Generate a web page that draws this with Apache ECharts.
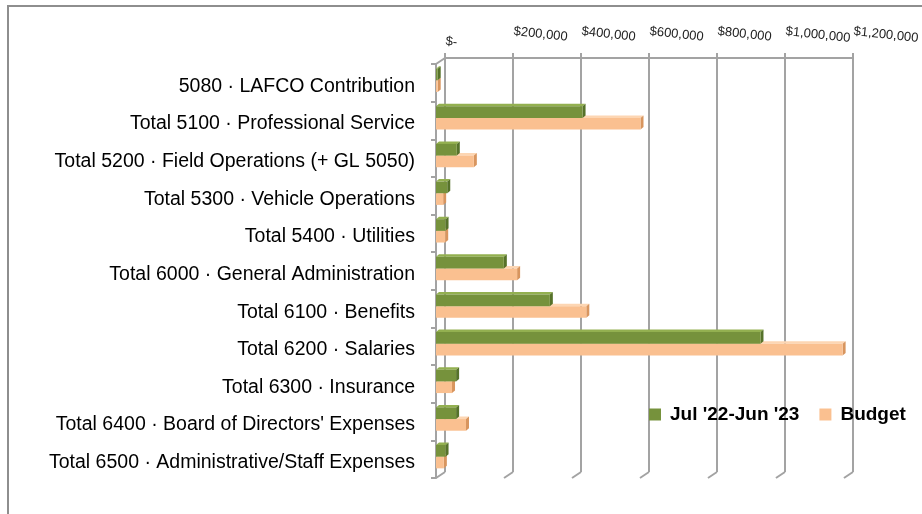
<!DOCTYPE html>
<html>
<head>
<meta charset="utf-8">
<script src="https://cdn.jsdelivr.net/npm/echarts@6/dist/echarts.min.js"></script>
<style>
html,body{margin:0;padding:0;background:#fff;}
#chart{width:922px;height:514px;}
</style>
</head>
<body>
<div id="chart"></div>
<script>
const categories = [
  '5080 · LAFCO Contribution',
  'Total 5100 · Professional Service',
  'Total 5200 · Field Operations (+ GL 5050)',
  'Total 5300 · Vehicle Operations',
  'Total 5400 · Utilities',
  'Total 6000 · General Administration',
  'Total 6100 · Benefits',
  'Total 6200 · Salaries',
  'Total 6300 · Insurance',
  "Total 6400 · Board of Directors' Expenses",
  'Total 6500 · Administrative/Staff Expenses'
];
const actual = [5000, 430000, 61000, 33000, 28000, 199000, 334000, 952000, 59000, 59000, 28000];
const budget = [5000, 600000, 111000, 21000, 27000, 238000, 441000, 1193000, 47000, 88000, 23000];
const seriesNames = ["Jul '22-Jun '23", 'Budget'];
const tickValues = [0, 200000, 400000, 600000, 800000, 1000000, 1200000];

const GREEN = {front:'#76923C', top:'#93B050', side:'#56722A'};
const ORANGE = {front:'#FAC090', top:'#FDD6B3', side:'#D8955E'};

function fmtMoney(v){
  if (v === 0) return '$-';
  return '$' + v.toLocaleString('en-US');
}

function barRenderer(which, col){
  return function(params, api){
    const val = api.value(0);
    const idx = api.value(1);
    const p0 = api.coord([0, idx]);
    const p1 = api.coord([val, idx]);
    const band = api.size([0, 1])[1];
    const h = band * 0.31;
    const c = p0[1];
    const split = c - 2.5;
    const yTop = which === 0 ? split - h : split;
    const yBot = yTop + h;
    const x0 = p0[0], x1 = Math.max(p1[0], x0 + 1);
    const dx = 3, dy = 2.5;
    return {
      type: 'group',
      children: [
        {type:'polygon', shape:{points:[[x0,yTop],[x1,yTop],[x1+dx,yTop-dy],[x0+dx,yTop-dy]]}, style:{fill:col.top}},
        {type:'polygon', shape:{points:[[x1,yTop],[x1+dx,yTop-dy],[x1+dx,yBot-dy],[x1,yBot]]}, style:{fill:col.side}},
        {type:'rect', shape:{x:x0, y:yTop, width:x1-x0, height:h}, style:{fill:col.front}}
      ]
    };
  };
}

const chart = echarts.init(document.getElementById('chart'), null, {renderer:'canvas'});

const gridLineColor = '#a3a3a3';
const topLabelStyle = {rotate:6, align:'left', verticalAlign:'bottom', fontFamily:'Liberation Sans', fontSize:13, color:'#222', showMaxLabel:true, showMinLabel:true};

const option = {
  animation: false,
  backgroundColor: '#fff',
  graphic: [{
    type: 'polyline',
    shape: {points: [[8,514],[8,6],[922,6]]},
    style: {stroke:'#8e8e8e', lineWidth:2, fill:null},
    silent: true
  }],
  legend: {
    data: [
      {name: seriesNames[0], icon:'rect', itemStyle:{color:GREEN.front}},
      {name: seriesNames[1], icon:'rect', itemStyle:{color:ORANGE.front}}
    ],
    left: 644, top: 400,
    itemWidth: 12, itemHeight: 12, itemGap: 20,
    textStyle: {fontFamily:'Liberation Sans', fontSize:19, fontWeight:'bold', color:'#000', padding:[0,0,0,4]}
  },
  grid: [
    {left:445, right:68, top:58, bottom:42},
    {left:436, right:77, top:64, bottom:36}
  ],
  xAxis: [
    {
      gridIndex:0, type:'value', position:'top', min:0, max:1200000, interval:200000,
      axisLine:{show:true, lineStyle:{color:gridLineColor, width:2}},
      axisTick:{show:true, length:5, lineStyle:{color:gridLineColor, width:2}},
      splitLine:{show:true, lineStyle:{color:gridLineColor, width:2}},
      axisLabel: Object.assign({}, topLabelStyle, {margin:20, formatter: v => v === 0 ? '' : fmtMoney(v)})
    },
    {
      gridIndex:1, type:'value', min:0, max:1200000, interval:200000, show:false
    },
    {
      gridIndex:0, type:'value', position:'top', min:0, max:1200000, interval:200000,
      axisLine:{show:false}, axisTick:{show:false}, splitLine:{show:false},
      axisLabel: Object.assign({}, topLabelStyle, {margin:10, formatter: v => v === 0 ? fmtMoney(v) : ''})
    }
  ],
  yAxis: [
    {gridIndex:0, type:'category', data:categories, inverse:true, show:false},
    {
      gridIndex:1, type:'category', data:categories, inverse:true,
      axisLine:{show:true, lineStyle:{color:gridLineColor, width:2}},
      axisTick:{show:true, length:5, lineStyle:{color:gridLineColor, width:2}},
      axisLabel:{
        margin:21,
        formatter: v => '{c|' + v + '}',
        rich: {c: {fontFamily:'Liberation Sans', fontSize:19.5, color:'#000', padding:[7,0,0,0]}}
      },
      splitLine:{show:false}
    }
  ],
  series: [
    {
      name:'floor', type:'custom', xAxisIndex:0, yAxisIndex:0, silent:true, z:1,
      data: tickValues.map(t => [t]),
      encode:{x:0},
      renderItem: function(params, api){
        const t = api.value(0);
        const x = api.coord([t, 0])[0];
        const cs = params.coordSys;
        const bottom = cs.y + cs.height;
        const children = [
          {type:'line', shape:{x1:x, y1:bottom, x2:x-9, y2:bottom+6}, style:{stroke:gridLineColor, lineWidth:2}}
        ];
        if (t === 0) {
          children.push({type:'line', shape:{x1:x, y1:cs.y, x2:x-9, y2:cs.y+6}, style:{stroke:gridLineColor, lineWidth:2}});
        }
        return {type:'group', children: children};
      }
    },
    {
      name: seriesNames[1], type:'custom', xAxisIndex:1, yAxisIndex:1, z:3,
      itemStyle:{color:ORANGE.front},
      data: budget.map((v,i) => [v, i]),
      encode:{x:0, y:1},
      renderItem: barRenderer(1, ORANGE)
    },
    {
      name: seriesNames[0], type:'custom', xAxisIndex:1, yAxisIndex:1, z:4,
      itemStyle:{color:GREEN.front},
      data: actual.map((v,i) => [v, i]),
      encode:{x:0, y:1},
      renderItem: barRenderer(0, GREEN)
    }
  ]
};
chart.setOption(option);
</script>
</body>
</html>
